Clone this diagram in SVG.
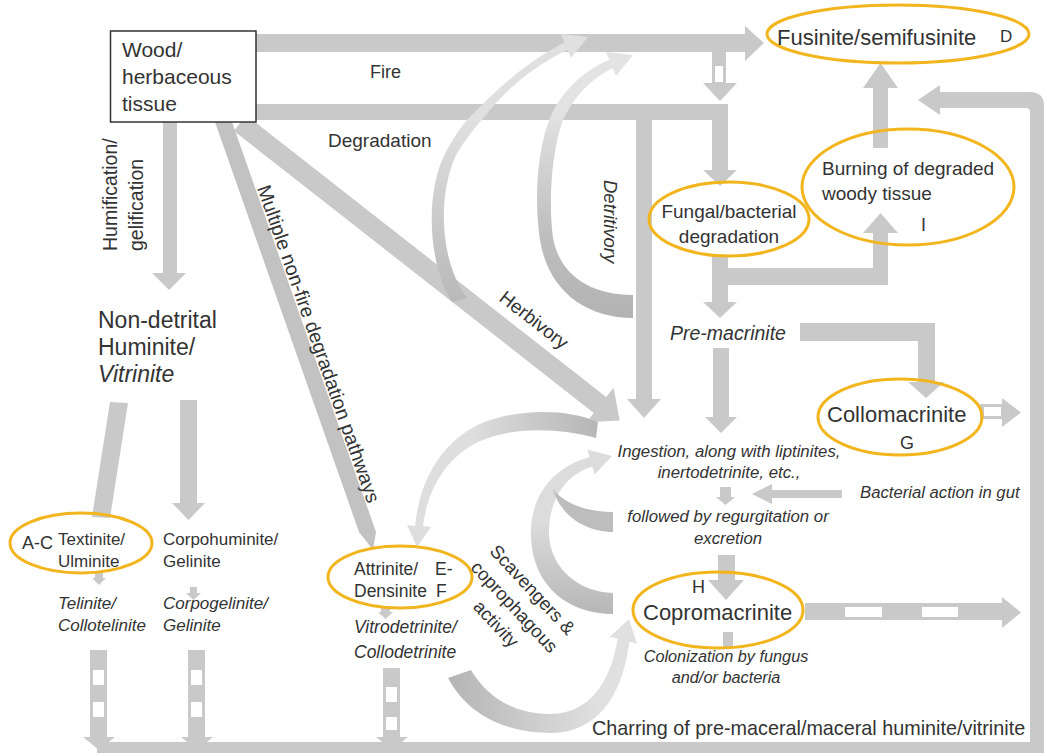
<svg xmlns="http://www.w3.org/2000/svg" width="1047" height="756" viewBox="0 0 1047 756">
<defs>
<style>
.t{font-family:"Liberation Sans",Arial,sans-serif;fill:#333;}
.i{font-style:italic;}
.band{fill:#c9c9c9;}
.hole{fill:#ffffff;}
.ell{fill:none;stroke:#f2b51e;stroke-width:3;}
</style>
<linearGradient id="g1" gradientUnits="userSpaceOnUse" x1="0" y1="300" x2="0" y2="120"><stop offset="0" stop-color="#b9b9b9"/><stop offset="1" stop-color="#e0e0e0"/></linearGradient>
<linearGradient id="g2" gradientUnits="userSpaceOnUse" x1="0" y1="318" x2="0" y2="110"><stop offset="0" stop-color="#b3b3b3"/><stop offset="0.4" stop-color="#bebebe"/><stop offset="1" stop-color="#e3e3e3"/></linearGradient>
<linearGradient id="g3" gradientUnits="userSpaceOnUse" x1="600" y1="425" x2="470" y2="440"><stop offset="0" stop-color="#b5b5b5"/><stop offset="1" stop-color="#dedede"/></linearGradient>
<linearGradient id="g4" gradientUnits="userSpaceOnUse" x1="0" y1="610" x2="0" y2="520"><stop offset="0" stop-color="#b8b8b8"/><stop offset="1" stop-color="#dcdcdc"/></linearGradient>
<linearGradient id="g5" gradientUnits="userSpaceOnUse" x1="450" y1="0" x2="600" y2="0"><stop offset="0" stop-color="#b5b5b5"/><stop offset="1" stop-color="#e0e0e0"/></linearGradient>
</defs>
<rect x="0" y="0" width="1047" height="756" fill="#ffffff"/>

<g id="connectors">
  <!-- Fire -->
  <rect class="band" x="256" y="34" width="491" height="18"/>
  <polygon class="band" points="745,26 764,43 745,61"/>
  <!-- dashed fire to fungal -->
  <rect class="band" x="712" y="52" width="14" height="32"/>
  <rect class="hole" x="715" y="66" width="8" height="16"/>
  <polygon class="band" points="703,83 737,83 720,101"/>
  <!-- Degradation -->
  <rect class="band" x="256" y="104" width="472" height="16"/>
  <rect class="band" x="712" y="104" width="16" height="67"/>
  <polygon class="band" points="703,170 737,170 720,186"/>
  <!-- Detritivory branch -->
  <rect class="band" x="636" y="120" width="16" height="280"/>
  <polygon class="band" points="627,399 661,399 644,418"/>
  <!-- Herbivory -->
  <polygon class="band" points="246.2,115.1 606.2,397.1 613.6,387.7 619.7,420.4 586.4,422.3 593.8,412.9 233.8,130.9"/>
  <!-- Multiple non-fire -->
  <polygon class="band" points="215,122 232,122 376,532 373,550 359,532" style="fill:#c2c2c2"/>
  <!-- Humification -->
  <rect class="band" x="163" y="122" width="14" height="152"/>
  <polygon class="band" points="152,273 186,273 169,290"/>
  <!-- Vitrinite to Textinite -->
  <polygon class="band" points="110,402 128,403 110,518 92,517"/>
  <!-- Vitrinite to Corpohuminite -->
  <rect class="band" x="180" y="400" width="17" height="104"/>
  <polygon class="band" points="172,503 205,503 188.5,520"/>
  <!-- small arrows -->
  <rect class="band" x="95" y="572" width="8" height="7"/>
  <polygon class="band" points="92,578 106,578 99,585"/>
  <rect class="band" x="190" y="587" width="7" height="7"/>
  <polygon class="band" points="186,593 201,593 193.5,600"/>
  <rect class="band" x="381" y="606" width="9" height="7"/>
  <polygon class="band" points="378,612 393,612 385.5,619"/>
  <!-- dashed down arrows -->
  <rect class="band" x="90" y="650" width="17" height="88"/>
  <rect class="hole" x="93" y="670" width="11" height="15"/>
  <rect class="hole" x="93" y="702" width="11" height="15"/>
  <polygon class="band" points="83,737 115,737 99,750"/>
  <rect class="band" x="188" y="650" width="17" height="88"/>
  <rect class="hole" x="191" y="670" width="11" height="15"/>
  <rect class="hole" x="191" y="702" width="11" height="15"/>
  <polygon class="band" points="181,737 213,737 197,750"/>
  <rect class="band" x="383" y="668" width="17" height="70"/>
  <rect class="hole" x="386" y="687" width="11" height="15"/>
  <rect class="hole" x="386" y="717" width="11" height="13"/>
  <polygon class="band" points="376,737 408,737 392,750"/>
  <!-- charring loop -->
  <path class="band" d="M97,742 H1030 V112 Q1030,108 1026,108 H940 V115 L918,100 L940,85 V92 H1030 Q1044,92 1044,106 V753 H97 Z"/>
  <!-- Fungal to pre-macrinite and burning -->
  <rect class="band" x="712" y="256" width="16" height="47"/>
  <polygon class="band" points="703,302 737,302 720,318"/>
  <rect class="band" x="712" y="268" width="176" height="17"/>
  <rect class="band" x="873" y="232" width="15" height="53"/>
  <polygon class="band" points="863,233 898,233 880.5,213"/>
  <!-- Burning to fusinite -->
  <rect class="band" x="873" y="87" width="15" height="61"/>
  <polygon class="band" points="863,88 898,88 880.5,63"/>
  <!-- Pre-macrinite to Collomacrinite -->
  <rect class="band" x="800" y="323" width="135" height="18"/>
  <rect class="band" x="918" y="323" width="17" height="60"/>
  <polygon class="band" points="908,382 944,382 926,398"/>
  <!-- Pre-macrinite down -->
  <rect class="band" x="713" y="348" width="16" height="70"/>
  <polygon class="band" points="705,417 737,417 721,433"/>
  <!-- Collomacrinite hollow arrow -->
  <rect class="band" x="980" y="404" width="24" height="15"/>
  <rect class="hole" x="984" y="407" width="17" height="9"/>
  <polygon class="band" points="1002,398 1002,427 1021,412.5"/>
  <!-- ingestion small arrow -->
  <rect class="band" x="720" y="487" width="11" height="10"/>
  <polygon class="band" points="716,497 735,497 725.5,505"/>
  <!-- bacterial action -->
  <rect class="band" x="770" y="490" width="72" height="8"/>
  <polygon class="band" points="772,484 772,504 752,494"/>
  <!-- regurgitation to copromacrinite -->
  <rect class="band" x="718" y="555" width="17" height="26"/>
  <polygon class="band" points="708,580 744,580 726,600"/>
  <!-- copromacrinite stub -->
  <rect class="band" x="723" y="632" width="10" height="16"/>
  <!-- copromacrinite dashed right -->
  <rect class="band" x="805" y="603" width="198" height="17"/>
  <rect class="hole" x="845" y="607" width="37" height="10"/>
  <rect class="hole" x="922" y="607" width="36" height="10"/>
  <polygon class="band" points="1002,597 1002,628 1021,612.5"/>
  <!-- curved arrows -->
  <path fill="url(#g1)" d="M452,302 C428,265 424,190 447,150 C456,133 466,120 475,112 C495,92 520,66 564.5,42.3 L561,34 L588,37 L571,58 L567.5,49.7 C526,70 503,94 484,117 C474,129 464,141 456,155 C437,196 440,262 467,298 Z"/>
  <path fill="url(#g2)" d="M633,318 C585,318 548,290 540,240 C534,200 537,150 550,118 C562,90 585,70 609.3,59.8 L606,52 L633,55 L616,76 L612.7,68.2 C592,78 575,95 563,120 C552,150 548,200 553,238 C560,275 590,295 633,295 Z"/>
  <path fill="url(#g3)" d="M598,422 C560,406 505,410 472,428 C440,447 420,480 415,526 L407,525 L417,547 L431,527 L423,526 C428,488 446,458 478,442 C512,426 560,428 596,438 Z"/>
  <path fill="url(#g4)" d="M613,614 C570,614 533,588 531,537 C529,495 555,466 589.6,457.2 L587.4,449.5 L612,456 L594.6,474.5 L592.4,466.8 C566,474 548,500 549,535 C551,570 580,592 613,593 Z"/>
  <path fill="#bdbdbd" d="M613,512 C590,512 565,505 553,489 C560,515 585,532 613,532 Z"/>
  <path fill="url(#g5)" d="M448,678 C468,715 505,733 552,733 C595,732 622,700 629.3,641.8 L637.1,643.8 L629,619 L609.9,636.8 L617.7,638.8 C610,685 588,713 552,714 C515,715 487,697 471,670 Z"/>
</g>

<g id="node-wood">
  <rect x="110.5" y="31" width="145.5" height="91" fill="#ffffff" stroke="#333" stroke-width="1.5"/>
  <text class="t" x="122" y="57" font-size="21">Wood/</text>
  <text class="t" x="122" y="84" font-size="21">herbaceous</text>
  <text class="t" x="122" y="111" font-size="21">tissue</text>
</g>
<g id="node-fusinite">
  <ellipse class="ell" cx="898" cy="34" rx="131" ry="29"/>
  <text class="t" x="777" y="45" font-size="22">Fusinite/semifusinite</text>
  <text class="t" x="1000" y="42" font-size="17">D</text>
</g>
<g id="node-burning">
  <ellipse class="ell" cx="908" cy="187" rx="106" ry="58"/>
  <text class="t" x="822" y="175" font-size="19">Burning of degraded</text>
  <text class="t" x="822" y="200" font-size="19">woody tissue</text>
  <text class="t" x="921" y="231" font-size="18">I</text>
</g>
<g id="node-fungal">
  <ellipse class="ell" cx="729" cy="219" rx="80" ry="37"/>
  <text class="t" x="729" y="218" font-size="19" text-anchor="middle">Fungal/bacterial</text>
  <text class="t" x="729" y="243" font-size="19" text-anchor="middle">degradation</text>
</g>
<g id="node-premacrinite">
  <text class="t i" x="670" y="340" font-size="19.5">Pre-macrinite</text>
</g>
<g id="node-collomacrinite">
  <ellipse class="ell" cx="900" cy="417" rx="82" ry="38"/>
  <text class="t" x="827" y="422" font-size="22">Collomacrinite</text>
  <text class="t" x="900" y="449" font-size="18">G</text>
</g>
<g id="node-ingestion">
  <text class="t i" x="729" y="457" font-size="16.8" text-anchor="middle">Ingestion, along with liptinites,</text>
  <text class="t i" x="729" y="478" font-size="16.8" text-anchor="middle">inertodetrinite, etc.,</text>
  <text class="t i" x="728" y="522" font-size="16.8" text-anchor="middle">followed by regurgitation or</text>
  <text class="t i" x="728" y="544" font-size="16.8" text-anchor="middle">excretion</text>
</g>
<g id="node-bacterial">
  <text class="t i" x="860" y="498" font-size="16.7">Bacterial action in gut</text>
</g>
<g id="node-copromacrinite">
  <ellipse class="ell" cx="718" cy="610" rx="85" ry="38"/>
  <text class="t" x="692" y="593" font-size="18">H</text>
  <text class="t" x="643" y="620" font-size="22">Copromacrinite</text>
  <text class="t i" x="726" y="662" font-size="16.3" text-anchor="middle">Colonization by fungus</text>
  <text class="t i" x="726" y="683" font-size="16.3" text-anchor="middle">and/or bacteria</text>
</g>
<g id="node-nondetrital">
  <text class="t" x="98" y="328" font-size="23">Non-detrital</text>
  <text class="t" x="98" y="355" font-size="23">Huminite/</text>
  <text class="t i" x="98" y="382" font-size="23">Vitrinite</text>
</g>
<g id="node-textinite">
  <ellipse class="ell" cx="81" cy="543" rx="71" ry="30"/>
  <text class="t" x="22" y="549" font-size="18">A-C</text>
  <text class="t" x="58" y="545" font-size="17">Textinite/</text>
  <text class="t" x="58" y="567" font-size="17">Ulminite</text>
  <text class="t i" x="58" y="609" font-size="17">Telinite/</text>
  <text class="t i" x="58" y="631" font-size="17">Collotelinite</text>
</g>
<g id="node-corpohuminite">
  <text class="t" x="163" y="545" font-size="17">Corpohuminite/</text>
  <text class="t" x="163" y="567" font-size="17">Gelinite</text>
  <text class="t i" x="163" y="609" font-size="17">Corpogelinite/</text>
  <text class="t i" x="163" y="631" font-size="17">Gelinite</text>
</g>
<g id="node-attrinite">
  <ellipse class="ell" cx="400" cy="577" rx="72" ry="31"/>
  <text class="t" x="354" y="575" font-size="17.5">Attrinite/</text>
  <text class="t" x="354" y="597" font-size="17.5">Densinite</text>
  <text class="t" x="435" y="575" font-size="17.5">E-</text>
  <text class="t" x="436" y="597" font-size="17.5">F</text>
  <text class="t i" x="354" y="633" font-size="17.5">Vitrodetrinite/</text>
  <text class="t i" x="354" y="658" font-size="17.5">Collodetrinite</text>
</g>
<g id="node-charring">
  <text class="t" x="592" y="735" font-size="19.8">Charring of pre-maceral/maceral huminite/vitrinite</text>
</g>

<g id="connector-labels">
  <text class="t" x="370" y="78" font-size="18">Fire</text>
  <text class="t" x="328" y="147" font-size="19">Degradation</text>
  <text class="t" font-size="19.5" transform="translate(117,251) rotate(-90)">Humification/</text>
  <text class="t" font-size="19.5" transform="translate(143,251) rotate(-90)">gelification</text>
  <text class="t" font-size="19.5" transform="translate(257,188) rotate(70.7)">Multiple non-fire degradation pathways</text>
  <text class="t" font-size="19" transform="translate(498,300) rotate(38)">Herbivory</text>
  <text class="t i" font-size="18.5" transform="translate(604,180) rotate(90)">Detritivory</text>
  <g transform="translate(528,594) rotate(47)">
    <text class="t" x="0" y="0" font-size="18.5" text-anchor="middle">Scavengers &amp;</text>
    <text class="t" x="0" y="25" font-size="18.5" text-anchor="middle">coprophagous</text>
    <text class="t" x="0" y="50" font-size="18.5" text-anchor="middle">activity</text>
  </g>
</g>
</svg>
